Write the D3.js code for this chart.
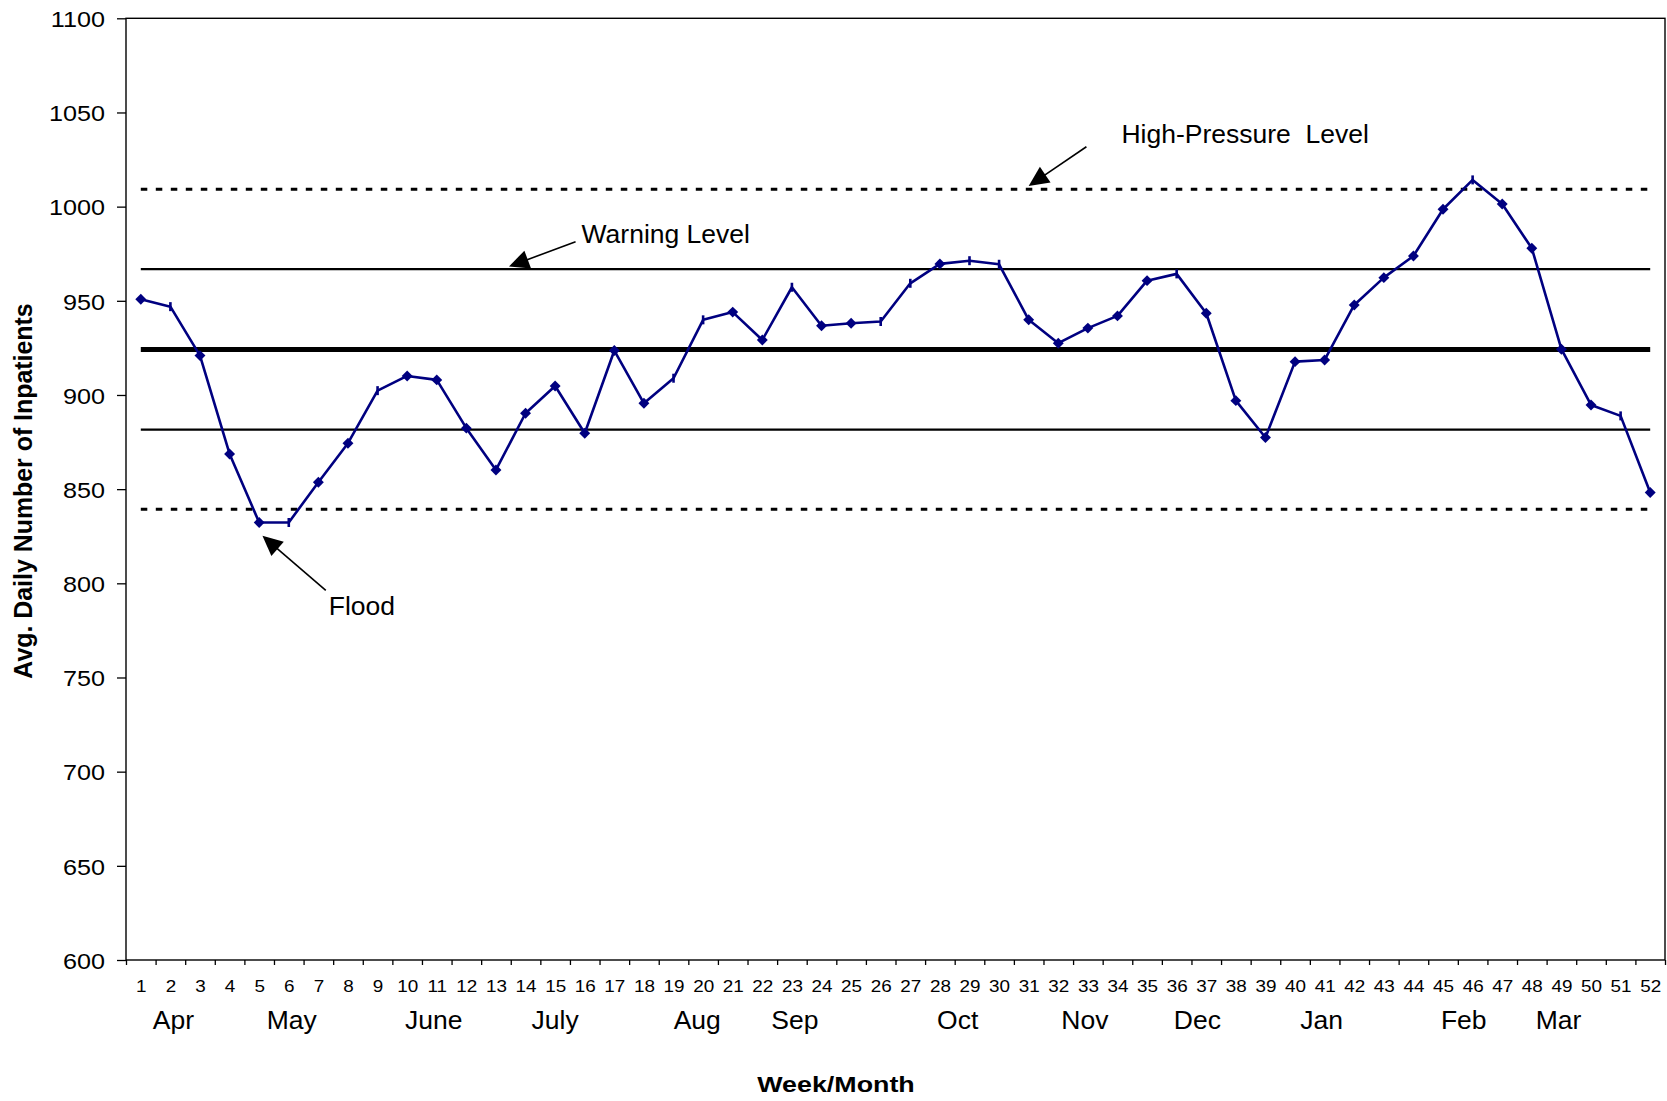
<!DOCTYPE html>
<html>
<head>
<meta charset="utf-8">
<script src="https://cdn.jsdelivr.net/npm/d3@7"></script>
<style>
  html, body { margin: 0; padding: 0; background: #fff; }
  svg { display: block; font-family: "Liberation Sans", Arial, Helvetica, sans-serif; }
</style>
</head>
<body>
<svg id="chart" width="1667" height="1101"></svg>
<script>
// ---- data ----
const weeks = d3.range(1, 53);

// Average daily number of inpatients, week 1 (April) .. week 52 (March)
const inpatients = [
  950.8, 946.9, 920.9, 868.7, 832.3, 832.3, 853.7, 874.4, 902.3, 910.1,
  908.0, 882.4, 860.2, 890.3, 904.8, 879.7, 923.6, 895.6, 908.9, 939.9,
  944.0, 929.2, 957.2, 936.8, 938.1, 939.0, 959.3, 969.6, 971.3, 969.4,
  939.9, 927.5, 935.5, 942.0, 960.7, 964.3, 943.4, 897.0, 877.4, 917.7,
  918.6, 947.8, 962.3, 973.8, 998.6, 1014.2, 1001.4, 977.9, 924.3, 894.7,
  888.9, 848.2
];

// Control levels
const levelNames  = ["Mean", "Warning Level", "Lower Warning Level", "High-Pressure Level", "Low-Pressure Level"];
const levelValues = [924.2, 966.8, 881.6, 1009.2, 839.3];

const yTicks = d3.range(600, 1101, 50);

const monthNames   = ["Apr", "May", "June", "July", "Aug", "Sep", "Oct", "Nov", "Dec", "Jan", "Feb", "Mar"];
const monthAtWeek  = [2.1, 6.1, 10.9, 15.0, 19.8, 23.1, 28.6, 32.9, 36.7, 40.9, 45.7, 48.9];

// Callouts: arrow tip and tail given as [week, inpatients]
const noteLabels = ["Warning Level", "High-Pressure  Level", "Flood"];
const noteTips   = [[13.44, 968.2], [31.0, 1011.0], [5.11, 825.2]];
const noteTails  = [[15.69, 981.4], [32.95, 1031.8], [7.25, 796.2]];

// ---- layout ----
const plotLeft = 126, plotRight = 1665, plotTop = 18.3, plotBottom = 960;
const svg = d3.select("#chart");
const FONT = '"Liberation Sans", Arial, Helvetica, sans-serif';

const x = d3.scaleLinear().domain([0.5, 52.5]).range([plotLeft, plotRight]);
const y = d3.scaleLinear().domain([600, 1100]).range([plotBottom, plotTop]);

// stretch text horizontally about its own x anchor
function stretch(sel, sx) {
  sel.attr("transform", function () {
    const X = +(this.getAttribute("x") || 0);
    return `translate(${X},0) scale(${sx},1) translate(${-X},0)`;
  });
}

// ---- y axis ----
const gy = svg.append("g")
  .attr("transform", `translate(${plotLeft},0)`)
  .call(d3.axisLeft(y).tickValues(yTicks).tickSize(9).tickPadding(12).tickFormat(d3.format("d")))
  .attr("font-size", null).attr("font-family", null);
gy.select(".domain").remove();
gy.selectAll(".tick line").attr("stroke", "#000").attr("stroke-width", 1.3);
gy.selectAll(".tick text")
  .attr("fill", "#000").attr("font-size", 22.5).attr("font-family", FONT).attr("dy", "0.37em")
  .call(stretch, 1.12);

// ---- x axis: tick marks at week boundaries ----
const gxt = svg.append("g")
  .attr("transform", `translate(0,${plotBottom})`)
  .call(d3.axisBottom(x).tickValues(d3.range(0.5, 53, 1)).tickSize(5).tickFormat(""));
gxt.select(".domain").remove();
gxt.selectAll(".tick line").attr("stroke", "#000").attr("stroke-width", 1.3);

// ---- x axis: week numbers ----
const gx = svg.append("g")
  .attr("transform", `translate(0,${plotBottom})`)
  .call(d3.axisBottom(x).tickValues(weeks).tickSize(0).tickPadding(21).tickFormat(d3.format("d")))
  .attr("font-size", null).attr("font-family", null);
gx.select(".domain").remove();
gx.selectAll(".tick text")
  .attr("fill", "#000").attr("font-size", 16).attr("font-family", FONT)
  .call(stretch, 1.18);

// ---- month labels ----
svg.append("g").selectAll("text")
  .data(monthNames)
  .join("text")
  .attr("x", (d, i) => x(monthAtWeek[i]))
  .attr("y", 1029)
  .attr("text-anchor", "middle")
  .attr("font-size", 26.5)
  .attr("fill", "#000")
  .text(d => d);

// ---- plot frame ----
svg.append("rect")
  .attr("x", plotLeft).attr("y", plotTop)
  .attr("width", plotRight - plotLeft).attr("height", plotBottom - plotTop)
  .attr("fill", "none").attr("stroke", "#000").attr("stroke-width", 1.4);

// ---- control level lines ----
const levelStyle = [
  { w: 5,   dash: null },
  { w: 2.2, dash: null },
  { w: 2.2, dash: null },
  { w: 3,   dash: "6.5,8.5" },
  { w: 3,   dash: "6.5,8.5" }
];
const levelLine = d3.line().x(d => x(d[0])).y(d => y(d[1]));
svg.append("g").selectAll("path")
  .data(levelValues)
  .join("path")
  .attr("d", v => levelLine([[weeks[0], v], [weeks[weeks.length - 1], v]]))
  .attr("fill", "none")
  .attr("stroke", "#000")
  .attr("stroke-width", (v, i) => levelStyle[i].w)
  .attr("stroke-dasharray", (v, i) => levelStyle[i].dash);

// ---- inpatient series ----
const NAVY = "#000080";
const series = weeks.map((w, i) => [w, inpatients[i]]);
svg.append("path")
  .datum(series)
  .attr("d", d3.line().x(d => x(d[0])).y(d => y(d[1])))
  .attr("fill", "none")
  .attr("stroke", NAVY)
  .attr("stroke-width", 2.6)
  .attr("stroke-linejoin", "round");

// weeks whose marker prints as a short vertical bar
const barMarkerWeeks = new Set([2, 6, 9, 19, 20, 23, 26, 27, 29, 30, 36, 46, 51]);
const gm = svg.append("g");
gm.selectAll("path.diamond")
  .data(series.filter(d => !barMarkerWeeks.has(d[0])))
  .join("path")
  .attr("class", "diamond")
  .attr("d", d3.symbol(d3.symbolDiamond2, 76))
  .attr("transform", d => `translate(${x(d[0])},${y(d[1])})`)
  .attr("fill", NAVY);
gm.selectAll("line.bar")
  .data(series.filter(d => barMarkerWeeks.has(d[0])))
  .join("line")
  .attr("class", "bar")
  .attr("x1", d => x(d[0])).attr("x2", d => x(d[0]))
  .attr("y1", d => y(d[1]) - 4.5).attr("y2", d => y(d[1]) + 4.5)
  .attr("stroke", NAVY).attr("stroke-width", 2.6);

// ---- callouts ----
const textOffsets = [[6, 1.5], [35, -3.4], [3, 24.3]];
const gn = svg.append("g");
noteLabels.forEach((label, i) => {
  const tx = x(noteTips[i][0]), ty = y(noteTips[i][1]);
  const sx = x(noteTails[i][0]), sy = y(noteTails[i][1]);
  const len = Math.hypot(tx - sx, ty - sy);
  const ux = (tx - sx) / len, uy = (ty - sy) / len;
  const L = 20, W = 9.5;
  const bx = tx - L * ux, by = ty - L * uy;
  gn.append("line")
    .attr("x1", sx).attr("y1", sy)
    .attr("x2", bx + 2 * ux).attr("y2", by + 2 * uy)
    .attr("stroke", "#000").attr("stroke-width", 1.6);
  gn.append("path")
    .attr("d", `M${tx},${ty}L${bx - W * uy},${by + W * ux}L${bx + W * uy},${by - W * ux}Z`)
    .attr("fill", "#000");
  gn.append("text")
    .attr("x", sx + textOffsets[i][0])
    .attr("y", sy + textOffsets[i][1])
    .attr("font-size", 26.5)
    .attr("fill", "#000")
    .style("white-space", "pre")
    .text(label);
});

// ---- axis titles ----
svg.append("text")
  .attr("x", 836).attr("y", 1091.7)
  .attr("text-anchor", "middle")
  .attr("font-size", 22).attr("font-weight", "bold").attr("fill", "#000")
  .text("Week/Month")
  .call(stretch, 1.22);

svg.append("text")
  .attr("transform", "translate(31.5,491) rotate(-90)")
  .attr("text-anchor", "middle")
  .attr("font-size", 24.9).attr("font-weight", "bold").attr("fill", "#000")
  .text("Avg. Daily Number of Inpatients");
</script>
</body>
</html>
